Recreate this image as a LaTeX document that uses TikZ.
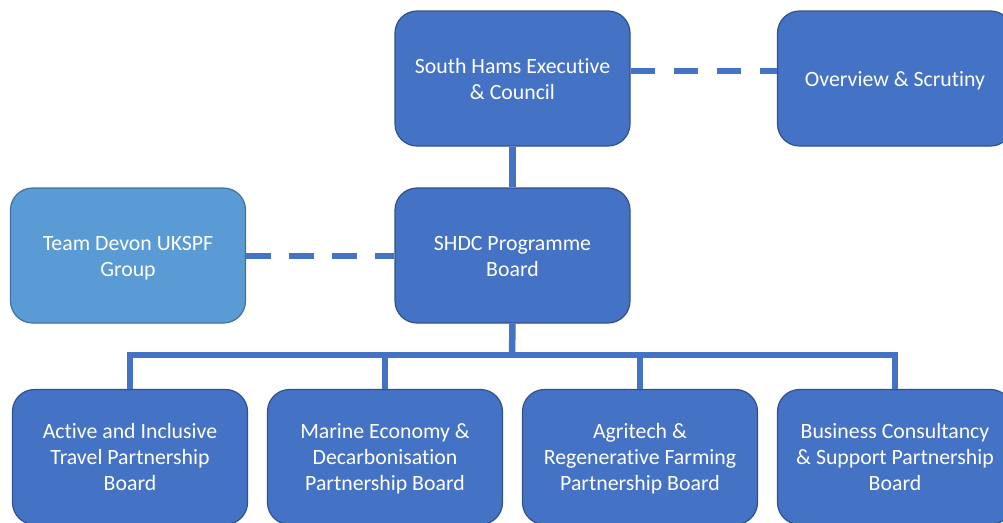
\documentclass[tikz,border=0pt]{standalone}
\usepackage{fontspec}
\setmainfont{Carlito}[Ligatures={NoCommon}]
\definecolor{boxblue}{HTML}{4472C4}
\definecolor{boxedge}{HTML}{2F528F}
\definecolor{lightblue}{HTML}{5B9BD5}
\definecolor{lightedge}{HTML}{41719C}
\newcommand\topstrut{\rule{0pt}{22pt}}
\newcommand\botstrut{\rule[-7pt]{0pt}{7pt}}
\begin{document}
\begin{tikzpicture}[x=1pt,y=-1pt,
  orgbox/.style={draw=boxedge,fill=boxblue,line width=1.2pt,rounded corners=22pt,
    minimum width=235pt,minimum height=135pt,inner sep=0pt,align=center,
    text=white,font=\fontsize{21.8}{26}\selectfont},
  lightbox/.style={orgbox,draw=lightedge,fill=lightblue},
  solidline/.style={draw=boxblue,line width=6.5pt},
  dashline/.style={draw=boxblue,line width=6pt,dash pattern=on 24.5pt off 18.5pt}]
\useasboundingbox (0,0) rectangle (1003,522);
\clip (0,0) rectangle (1003,522);
\node[orgbox] (top) at (512.5,78.5) {\topstrut South Hams Executive\\\& Council\botstrut};
\node[orgbox] (over) at (895,78.5) {\topstrut Overview \& Scrutiny\botstrut};
\node[lightbox] (team) at (128,255.5) {\topstrut Team Devon UKSPF\\Group\botstrut};
\node[orgbox] (shdc) at (512.5,255.5) {\topstrut SHDC Programme\\Board\botstrut};
\node[orgbox] (b1) at (130,457) {\topstrut Active and Inclusive\\Travel Partnership\\Board\botstrut};
\node[orgbox] (b2) at (385,457) {\topstrut Marine Economy \&\\Decarbonisation\\Partnership Board\botstrut};
\node[orgbox] (b3) at (640,457) {\topstrut Agritech \&\\Regenerative Farming\\Partnership Board\botstrut};
\node[orgbox] (b4) at (895,457) {\topstrut Business Consultancy\\\& Support Partnership\\Board\botstrut};
\coordinate (bus) at (512,355);
\draw[solidline] (top.south) -- (shdc.north);
\draw[solidline] (shdc.south) -- (bus);
\draw[solidline] (b1.north) -- (b1.north |- bus) -- (b4.north |- bus) -- (b4.north);
\draw[solidline] (b2.north |- bus) -- (b2.north);
\draw[solidline] (b3.north |- bus) -- (b3.north);
\draw[dashline] ([yshift=7.5pt]top.east) -- ([yshift=7.5pt]over.west);
\draw[dashline] (team.east) -- (shdc.west);
\end{tikzpicture}
\end{document}
